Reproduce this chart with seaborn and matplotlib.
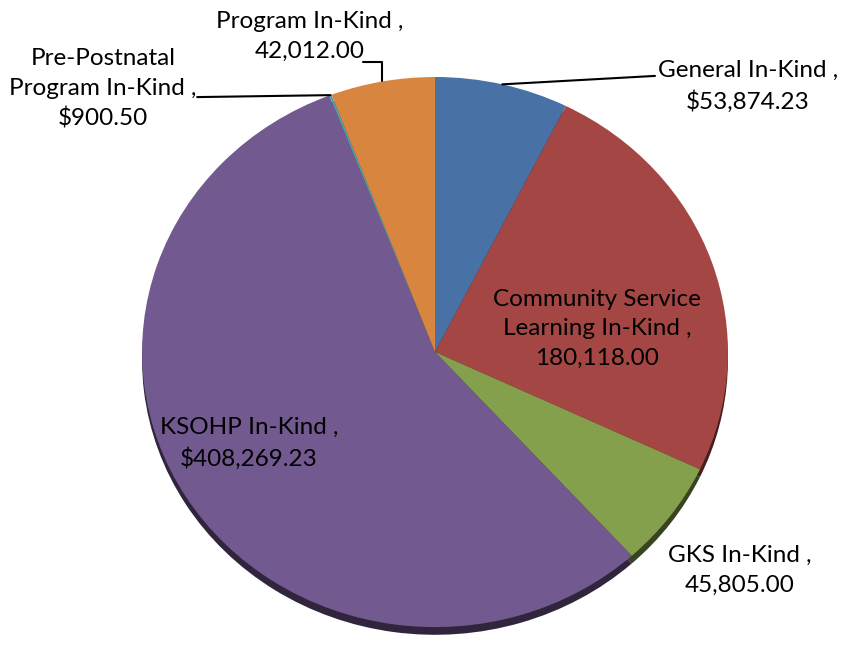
import numpy as np
import matplotlib
matplotlib.use("Agg")
import matplotlib.pyplot as plt
import seaborn as sns

# slices, clockwise from 12 o'clock
categories = ["General In-Kind", "Community Service Learning In-Kind", "GKS In-Kind",
              "KSOHP In-Kind", "Pre-Postnatal Program In-Kind", "Program In-Kind"]
values = [53874.23, 180118.00, 45805.00, 408269.23, 900.50, 42012.00]
value_labels = ["$53,874.23", "180,118.00", "45,805.00", "$408,269.23", "$900.50", "42,012.00"]
label_texts = ["General In-Kind ,\n$53,874.23",
               "Community Service\nLearning In-Kind ,\n180,118.00",
               "GKS In-Kind ,\n45,805.00",
               "KSOHP In-Kind ,\n$408,269.23",
               "Pre-Postnatal\nProgram In-Kind ,\n$900.50",
               "Program In-Kind ,\n42,012.00"]
colors = ["#4871A5", "#A44744", "#85A04C", "#72598F", "#45A2BA", "#D8853F"]

sns.set_style("white")
plt.rcParams['font.family'] = ['Lato', 'DejaVu Sans']

fig = plt.figure(figsize=(8.41, 6.48), dpi=100)
ax = fig.add_axes([0, 0, 1, 1])

# darker copy a bit lower gives the thin 3D rim
dark = [tuple(c * 0.42 for c in matplotlib.colors.to_rgb(col)) for col in colors]
ax.pie(values, colors=dark, startangle=90, counterclock=False, radius=1,
       center=(0, -0.028), wedgeprops=dict(linewidth=0))
wedges, _ = ax.pie(values, colors=colors, startangle=90, counterclock=False, radius=1,
                   wedgeprops=dict(linewidth=0))

ax.set_xlim(-1.485, 1.386)
ax.set_ylim(-1.076, 1.28)
ax.set_aspect('auto')
ax.axis('off')

# label positions (text centre) and leader line ends
text_pos = [(1.068, 0.967), (0.553, 0.084), (1.041, -0.793),
            (-0.635, -0.331), (-1.133, 0.956), (-0.427, 1.147)]
leader_end = [(0.751, 1.004), None, None, None, (-0.812, 0.927), (-0.246, 1.055)]

for w, txt, pos, end in zip(wedges, label_texts, text_pos, leader_end):
    ax.text(pos[0], pos[1], txt, ha='center', va='center', fontsize=17.5,
            color='black', linespacing=1.5)
    if end is not None:
        mid = np.deg2rad((w.theta1 + w.theta2) / 2)
        anchor = (np.cos(mid), np.sin(mid))
        if abs(end[1] - anchor[1]) > 0.1 or abs(end[0] - anchor[0]) < 0.15:
            cs = 'angle,angleA=0,angleB=90,rad=0'
        else:
            cs = 'arc3'
        ax.annotate('', xy=anchor, xytext=end,
                    arrowprops=dict(arrowstyle='-', color='black', lw=1.5,
                                    shrinkA=0, shrinkB=0, connectionstyle=cs))

fig.savefig("out.png", dpi=100)
